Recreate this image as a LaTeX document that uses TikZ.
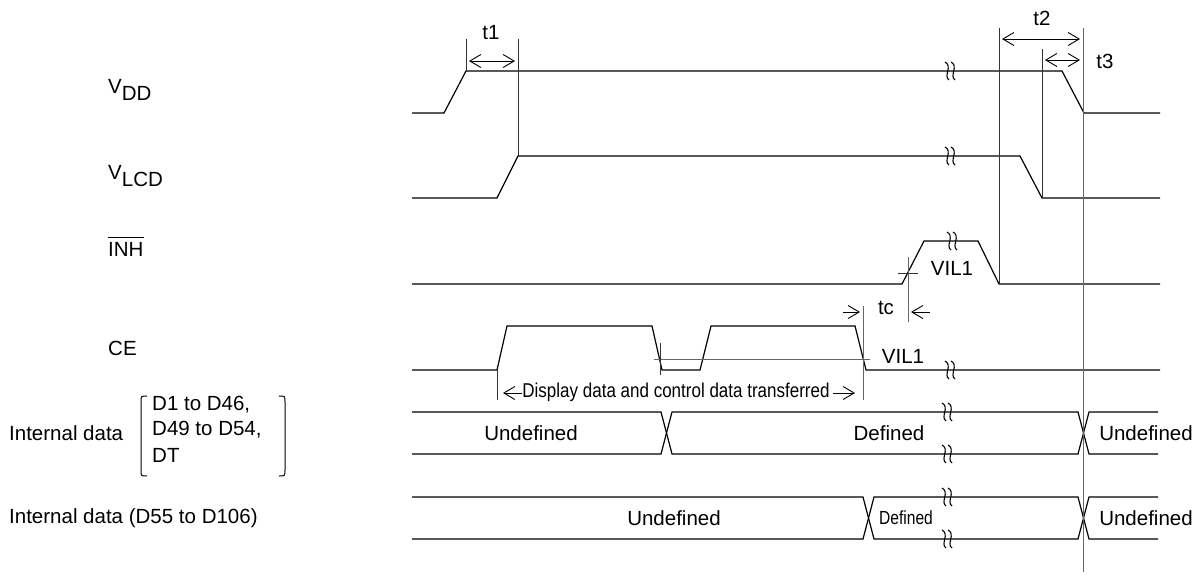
\documentclass[tikz,border=0pt]{standalone}
\usepackage{fontspec}
\usepackage{graphicx}
\setmainfont{Liberation Sans}
\usetikzlibrary{arrows.meta}
\begin{document}
\begin{tikzpicture}[x=1pt,y=-1pt,
  sig/.style={line width=1.2pt,line join=miter},
  guide/.style={line width=0.9pt,black!80},
  thin guide/.style={line width=0.8pt,black!60},
  dimarr/.style={line width=0.9pt,{Straight Barb[length=11pt,width=13pt]}-{Straight Barb[length=11pt,width=13pt]}},
  onearr/.style={line width=0.9pt,-{Straight Barb[length=11pt,width=13pt]}},
  lbl/.style={font=\fontsize{20.5}{24}\selectfont,inner sep=0pt},
  brk/.pic={
    \draw[line width=1.1pt] (-5,-9) .. controls (3,-5) and (-7,5) .. (-1,9);
    \draw[line width=1.1pt] (1,-9) .. controls (9,-5) and (-1,5) .. (5,9);
  }]
\useasboundingbox (0,0) rectangle (1202,574);

% ---------- signals ----------
\draw[sig] (412,113) -- (444,113) -- (466,71) -- (1062,71) -- (1084,113) -- (1160,113);
\draw[sig] (412,198) -- (497,198) -- (518,156) -- (1020,156) -- (1042,198) -- (1160,198);
\draw[sig] (412,284) -- (902,284) -- (924,241) -- (978,241) -- (999,284) -- (1160,284);
\draw[sig] (412,370) -- (497,370) -- (507,326) -- (652,326) -- (662,370) -- (700,370)
  -- (711,326) -- (855,326) -- (866,370) -- (1160,370);

% data rows
\draw[sig] (412,412) -- (661,412) -- (672,454) -- (1078,454) -- (1089,412) -- (1158,412);
\draw[sig] (412,454) -- (661,454) -- (672,412) -- (1078,412) -- (1089,454) -- (1158,454);
\draw[sig] (412,497) -- (863,497) -- (874,539) -- (1078,539) -- (1089,497) -- (1158,497);
\draw[sig] (412,539) -- (863,539) -- (874,497) -- (1078,497) -- (1089,539) -- (1158,539);

% break marks
\foreach \bx/\by in {950/71,950/156,952/241,950/370,947/412,947/454,947/497,947/539}
  \pic at (\bx,\by) {brk};

% ---------- guide lines ----------
\draw[guide] (466,39) -- (466,71);
\draw[guide] (518,39) -- (518,156);
\draw[guide] (999,28) -- (999,284);
\draw[thin guide] (1083,28) -- (1083,572);
\draw[guide] (1042,49) -- (1042,198);
\draw[thin guide] (908,257) -- (908,322);
\draw[guide] (898,273) -- (918,273);
\draw[thin guide] (863,306) -- (863,400);
\draw[thin guide] (654,359) -- (870,359);
\draw[guide] (660,343) -- (660,375);
\draw[guide] (497,370) -- (497,400);

% ---------- arrows ----------
\draw[dimarr] (469,61) -- (515,61);
\draw[dimarr] (1002,39) -- (1080,39);
\draw[dimarr] (1045,60) -- (1080,60);
\draw[onearr] (843,312) -- (860,312);
\draw[onearr] (930,312) -- (911,312);
\draw[onearr] (522,393) -- (503,393);
\draw[onearr] (833,393) -- (855,393);

% ---------- texts ----------
\node[lbl] (lt1) at (491,33) {t1};
\node[lbl] (lt2) at (1042,18) {t2};
\node[lbl] (lt3) at (1105,61) {t3};
\node[lbl] (lvil1a) at (952,268) {VIL1};
\node[lbl] (ltc) at (886,308) {tc};
\node[lbl] (lvil1b) at (903,356) {VIL1};
\node[lbl] (ldisp) at (676,392) {\fontsize{20}{22}\selectfont\scalebox{0.85}[1]{Display data and control data transferred}};

\node[lbl,anchor=base west] (lvdd) at (108,93) {V\raisebox{-7pt}{DD}};
\node[lbl,anchor=base west] (lvlcd) at (108,179) {V\raisebox{-7pt}{LCD}};
\node[lbl,anchor=base west] (linh) at (108,256) {INH};
\draw[line width=1pt] ([yshift=4pt]linh.north west) -- ([yshift=4pt]linh.north east);
\node[lbl,anchor=base west] (lce) at (108,355) {CE};

\node[lbl,anchor=west] (lint1) at (9,433) {Internal data};
\node[lbl,anchor=west] (ld1) at (152,405) {D1 to D46,};
\node[lbl,anchor=west] (ld49) at (152,430) {D49 to D54,};
\node[lbl,anchor=west] (ldt) at (152,455) {DT};
\draw[line width=1pt] (147,396) .. controls (141,396) .. (141,402) -- (141,470) .. controls (141,476) .. (147,476);
\draw[line width=1pt] (279,396) .. controls (285,396) .. (285,402) -- (285,470) .. controls (285,476) .. (279,476);
\node[lbl,anchor=west] (lint2) at (9,518) {Internal data (D55 to D106)};

\node[lbl] (lu1) at (531,433) {Undefined};
\node[lbl] (ldef1) at (889,433) {Defined};
\node[lbl] (lu1r) at (1146,433) {Undefined};
\node[lbl] (lu2) at (674,518) {Undefined};
\node[lbl] (ldef2) at (906,518) {\fontsize{19}{22}\selectfont\scalebox{0.82}[1]{Defined}};
\node[lbl] (lu2r) at (1146,518) {Undefined};
\end{tikzpicture}
\end{document}
